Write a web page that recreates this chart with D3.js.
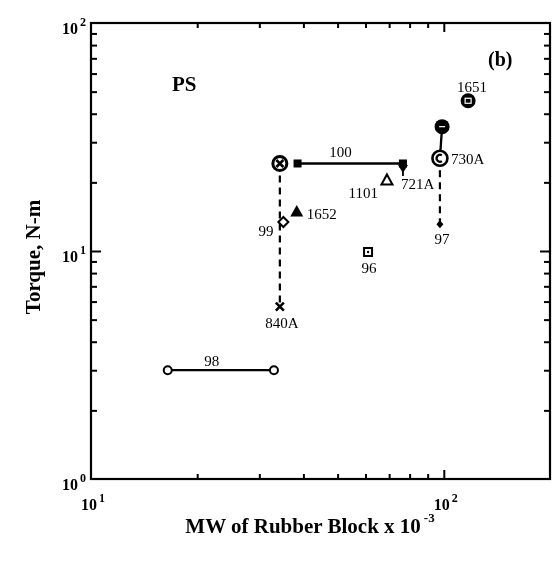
<!DOCTYPE html>
<html>
<head>
<meta charset="utf-8">
<script src="https://cdn.jsdelivr.net/npm/d3@7/dist/d3.min.js"></script>
<style>
  html, body { margin: 0; padding: 0; background: #fff; }
  svg { display: block; will-change: transform; }
  text { font-family: "Liberation Serif", "Times New Roman", serif; fill: #000; }
</style>
</head>
<body>
<svg id="chart" width="553" height="561"></svg>
<script>
// ---- data ----
const sampleIds    = ["98a", "98b", "99top", "100a", "100b", "721A", "1101", "1652", "99", "840A", "96", "97", "730A", "730Atop", "1651"];
const mwValues     = [16.5,  33.0,  34.3,    38.5,   76.6,   76.6,   69.0,   38.3,   35.1, 34.3,   61.0, 97.5, 97.5,   98.9,      117.2];
const torqueValues = [3.0,   3.0,   24.2,    24.2,   24.2,   23.1,   20.5,   14.9,   13.4, 5.7,    9.9,  13.1, 25.5,   35.1,      45.6];
const markerKinds  = ["openCircle", "openCircle", "circleX", "filledSquare", "filledSquare", "downTriangle", "openTriangle", "filledTriangle", "openDiamond", "cross", "dotSquare", "filledDiamond", "ringC", "filledCircle", "circleSquare"];
const solidLinks   = [["98a", "98b"], ["100a", "100b"], ["730Atop", "730A"]];
const dashedLinks  = [["99top", "840A"], ["730A", "97"]];
const pointLabels  = ["98", "100", "1651", "730A", "721A", "1101", "1652", "99", "840A", "96", "97"];
const labelAnchors = ["98a", "100a", "1651", "730A", "721A", "1101", "1652", "99", "840A", "96", "97"];
const xTickExps = [1, 2];
const yTickExps = [0, 1, 2];
const xTitle = "MW of Rubber Block x 10";
const xTitleSup = "-3";
const yTitle = "Torque, N-m";
const panelTag = "(b)";
const polymerTag = "PS";

// ---- layout ----
const L = 91, R = 550, T = 23, B = 479;
const svg = d3.select("#chart");
const x = d3.scaleLog().domain([10, 200]).range([L, R]);
const y = d3.scaleLog().domain([1, 100]).range([B, T]);

const pts = sampleIds.map((id, i) => ({ id, mw: mwValues[i], tq: torqueValues[i], kind: markerKinds[i] }));
const byId = Object.fromEntries(pts.map(p => [p.id, p]));

// ticks
const minorX = [];
for (let d = 10; d < 200; d *= 10) for (let k = 2; k <= 9; k++) if (d * k < 200) minorX.push(d * k);
const minorY = [];
for (let d = 1; d < 100; d *= 10) for (let k = 2; k <= 9; k++) minorY.push(d * k);
const majorX = [100];
const majorY = [10];

function ticks(axisFn, scale, vals, len, tr) {
  const g = svg.append("g").attr("transform", tr)
    .call(axisFn(scale).tickValues(vals).tickSize(len).tickFormat(""));
  g.select(".domain").remove();
  g.selectAll("line").attr("stroke", "#000").attr("stroke-width", 2);
}
ticks(d3.axisBottom, x, minorX, -5, `translate(0,${B})`);
ticks(d3.axisBottom, x, majorX, -9, `translate(0,${B})`);
ticks(d3.axisTop, x, minorX, -5, `translate(0,${T})`);
ticks(d3.axisTop, x, majorX, -9, `translate(0,${T})`);
ticks(d3.axisLeft, y, minorY, -6, `translate(${L},0)`);
ticks(d3.axisLeft, y, majorY, -10, `translate(${L},0)`);
ticks(d3.axisRight, y, minorY, -6, `translate(${R},0)`);
ticks(d3.axisRight, y, majorY, -10, `translate(${R},0)`);

// frame
svg.append("rect").attr("x", L).attr("y", T).attr("width", R - L).attr("height", B - T)
  .attr("fill", "none").attr("stroke", "#000").attr("stroke-width", 2.2);

// tick labels
function powLabel(g, base, exp, xx, yy, anchor) {
  const t = g.append("text").attr("x", xx).attr("y", yy).attr("text-anchor", anchor)
    .attr("font-weight", "bold").attr("font-size", 16);
  t.append("tspan").text(base);
  t.append("tspan").attr("dx", 2).attr("dy", -8).attr("font-size", 12).text(exp);
  return t;
}
const tl = svg.append("g");
yTickExps.forEach(e => powLabel(tl, "10", e, L - 5, y(Math.pow(10, e)) + 11, "end"));
xTickExps.forEach(e => powLabel(tl, "10", e, x(Math.pow(10, e)) + 2, B + 31, "middle"));

// axis titles
const xt = svg.append("text").attr("x", 310).attr("y", 533).attr("text-anchor", "middle")
  .attr("font-weight", "bold").attr("font-size", 21);
xt.append("tspan").text(xTitle);
xt.append("tspan").attr("dx", 3).attr("dy", -11).attr("font-size", 13).text(xTitleSup);

svg.append("text").attr("transform", `translate(40,${(T + B) / 2 + 6}) rotate(-90)`)
  .attr("text-anchor", "middle").attr("font-weight", "bold").attr("font-size", 21).text(yTitle);

svg.append("text").attr("x", 172).attr("y", 91).attr("font-weight", "bold").attr("font-size", 21).text(polymerTag);
svg.append("text").attr("x", 488).attr("y", 66).attr("font-weight", "bold").attr("font-size", 20).text(panelTag);

// links
const lg = svg.append("g");
solidLinks.forEach(([a, b]) => {
  lg.append("line").attr("x1", x(byId[a].mw)).attr("y1", y(byId[a].tq))
    .attr("x2", x(byId[b].mw)).attr("y2", y(byId[b].tq))
    .attr("stroke", "#000").attr("stroke-width", 2.3);
});
dashedLinks.forEach(([a, b]) => {
  lg.append("line").attr("x1", x(byId[a].mw)).attr("y1", y(byId[a].tq))
    .attr("x2", x(byId[b].mw)).attr("y2", y(byId[b].tq))
    .attr("stroke", "#000").attr("stroke-width", 2.2).attr("stroke-dasharray", "7,5");
});

// markers
const mg = svg.append("g");
pts.forEach(p => {
  const g = mg.append("g").attr("transform", `translate(${x(p.mw)},${y(p.tq)})`);
  switch (p.kind) {
    case "openCircle":
      g.append("circle").attr("r", 4).attr("fill", "#fff").attr("stroke", "#000").attr("stroke-width", 2);
      break;
    case "circleX":
      g.append("circle").attr("r", 7).attr("fill", "#fff").attr("stroke", "#000").attr("stroke-width", 3);
      g.append("path").attr("d", "M-3.5,-3.5L3.5,3.5M-3.5,3.5L3.5,-3.5").attr("stroke", "#000").attr("stroke-width", 2.6);
      break;
    case "filledSquare":
      g.append("rect").attr("x", -4).attr("y", -4).attr("width", 8).attr("height", 8).attr("fill", "#000");
      break;
    case "downTriangle":
      g.append("path").attr("d", "M-5,-3L5,-3L0,5Z").attr("fill", "#000");
      g.append("path").attr("d", "M0,-6L0,8").attr("stroke", "#000").attr("stroke-width", 1.8);
      break;
    case "openTriangle":
      g.append("path").attr("d", "M0,-5.5L5.5,4.5L-5.5,4.5Z").attr("fill", "#fff").attr("stroke", "#000").attr("stroke-width", 2);
      break;
    case "filledTriangle":
      g.append("path").attr("d", "M0,-6.5L6.5,5L-6.5,5Z").attr("fill", "#000");
      break;
    case "openDiamond":
      g.append("path").attr("d", "M0,-5L5,0L0,5L-5,0Z").attr("fill", "#fff").attr("stroke", "#000").attr("stroke-width", 2);
      break;
    case "cross":
      g.append("path").attr("d", "M-4,-4L4,4M-4,4L4,-4").attr("stroke", "#000").attr("stroke-width", 2.6);
      break;
    case "dotSquare":
      g.append("rect").attr("x", -4).attr("y", -4).attr("width", 8).attr("height", 8).attr("fill", "#fff").attr("stroke", "#000").attr("stroke-width", 2);
      g.append("circle").attr("r", 1.2).attr("fill", "#000");
      break;
    case "filledDiamond":
      g.append("path").attr("d", "M0,-4L3.5,0L0,4L-3.5,0Z").attr("fill", "#000");
      break;
    case "ringC":
      g.append("circle").attr("r", 7.5).attr("fill", "#fff").attr("stroke", "#000").attr("stroke-width", 2.6);
      g.append("path").attr("d", "M2,-3A3.5,3.5 0 1 0 2,3").attr("fill", "none").attr("stroke", "#000").attr("stroke-width", 2.2);
      break;
    case "filledCircle":
      g.append("circle").attr("r", 7.5).attr("fill", "#000");
      g.append("path").attr("d", "M-3,0L3,0").attr("stroke", "#fff").attr("stroke-width", 1.2);
      break;
    case "circleSquare":
      g.append("circle").attr("r", 7.5).attr("fill", "#000");
      g.append("rect").attr("x", -3).attr("y", -2.5).attr("width", 6).attr("height", 5).attr("fill", "none").attr("stroke", "#fff").attr("stroke-width", 1.2);
      break;
  }
});

// point labels (offsets are layout only)
const labelOffsets = {
  "98":   [44, -4, "middle"],
  "100":  [43, -6, "middle"],
  "1651": [4, -9, "middle"],
  "730A": [11, 6, "start"],
  "721A": [-2, 21, "start"],
  "1101": [-9, 18, "end"],
  "1652": [10, 7, "start"],
  "99":   [-10, 14, "end"],
  "840A": [2, 21, "middle"],
  "96":   [1, 21, "middle"],
  "97":   [2, 20, "middle"]
};
const lbl = svg.append("g");
pointLabels.forEach((txt, i) => {
  const p = byId[labelAnchors[i]];
  const [dx, dy, anc] = labelOffsets[txt];
  lbl.append("text").attr("x", x(p.mw) + dx).attr("y", y(p.tq) + dy)
    .attr("text-anchor", anc).attr("font-size", 15).text(txt);
});
</script>
</body>
</html>
